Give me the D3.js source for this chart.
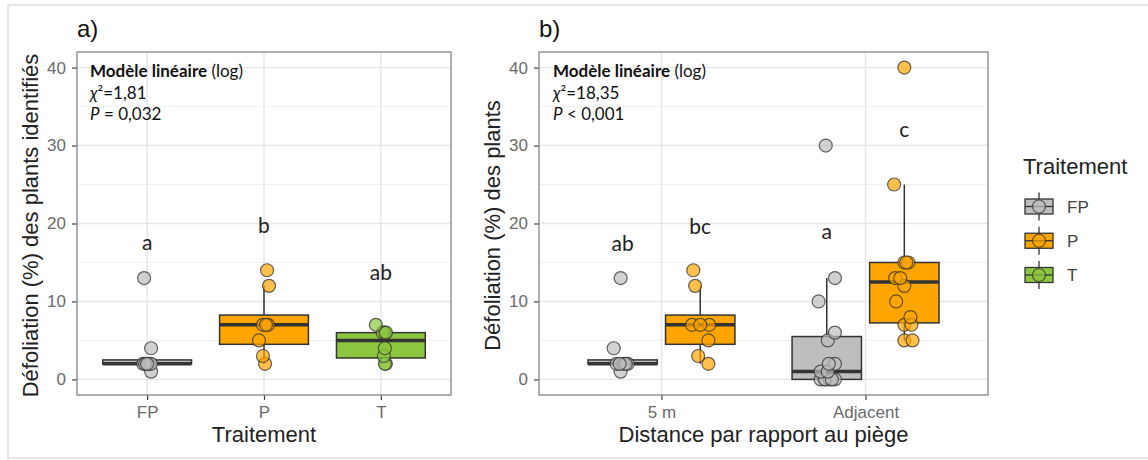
<!DOCTYPE html>
<html><head><meta charset="utf-8">
<script src="https://cdn.jsdelivr.net/npm/d3@7"></script>
<style>body{margin:0;background:#fff}svg{display:block}</style>
</head><body><svg id="c" width="1148" height="460"></svg>
<script>
// ---------------- DATA ----------------
const treatments = ["FP", "P", "T"];
const fillColors = ["#BEBEBE", "#FFA500", "#8DC63F"];

// Panel a: defoliation (%) by treatment
const catsA = ["FP", "P", "T"];
const valsA_FP = [1, 2, 2, 2, 2, 2, 4, 13];
const valsA_P  = [2, 3, 5, 7, 7, 7, 12, 14];
const valsA_T  = [2, 2, 3, 4, 6, 6, 6, 7];
// horizontal jitter (fraction of category step)
const jitA_FP = [0.034, -0.034, 0.017, 0.034, -0.017, 0.0, 0.034, -0.026];
const jitA_P  = [0.009, -0.009, -0.043, -0.009, 0.034, 0.017, 0.043, 0.026];
const jitA_T  = [0.043, 0.034, 0.026, 0.034, 0.034, 0.017, 0.043, -0.043];
const lettersA = ["a", "b", "ab"];
const letterValA = [16.6, 18.8, 12.75];

// Panel b: defoliation (%) by distance to trap, dodged by treatment
const catsB = ["5 m", "Adjacent"];
const valsB_5m_FP  = [1, 2, 2, 2, 2, 2, 4, 13];
const valsB_5m_P   = [2, 3, 5, 7, 7, 7, 12, 14];
const valsB_Adj_FP = [0, 0, 0, 0, 0, 0, 1, 1, 2, 2, 5, 6, 10, 13, 30];
const valsB_Adj_P  = [5, 5, 7, 7, 8, 10, 12, 13, 13, 15, 15, 15, 25, 40];
const jitB_5m_FP  = [-0.01, -0.03, 0.025, 0.005, 0.015, -0.015, -0.044, -0.01];
const jitB_5m_P   = [0.04, -0.01, 0.04, -0.04, 0.044, 0.0, -0.025, -0.034];
const jitB_Adj_FP = [-0.03, -0.005, 0.015, 0.04, -0.01, 0.025, -0.03, 0.005, 0.04, 0.01, 0.005, 0.04, -0.04, 0.04, -0.005];
const jitB_Adj_P  = [0.0, 0.04, 0.0, 0.035, 0.03, -0.04, 0.0, -0.045, -0.02, 0.0, 0.02, 0.01, -0.05, 0.0];
const lettersB = ["ab", "bc", "a", "c"];
const letterValB = [16.5, 18.65, 18.0, 31.1];

const yTicks = [0, 10, 20, 30, 40];
const yMinor = [5, 15, 25, 35];

const statsA = ["Modèle linéaire", "(log)", "1,81", "= 0,032"];
const statsB = ["Modèle linéaire", "(log)", "18,35", "< 0,001"];

// ---------------- DRAW ----------------
const svg = d3.select("#c");
const AX = "'Liberation Sans', Arial, sans-serif";
const CAL = "Lato, 'Open Sans', sans-serif";

svg.append("rect").attr("x", 8).attr("y", 5).attr("width", 1150).attr("height", 453)
  .attr("fill", "none").attr("stroke", "#e6e6e6").attr("stroke-width", 2);

const pTop = 52, pBottom = 395;
const y = d3.scaleLinear().domain([-2, 42]).range([pBottom, pTop]);

function boxStats(v) {
  const s = v.slice().sort(d3.ascending);
  const q1 = d3.quantile(s, 0.25), med = d3.quantile(s, 0.5), q3 = d3.quantile(s, 0.75);
  const iqr = q3 - q1;
  const lo = d3.min(s.filter(d => d >= q1 - 1.5 * iqr));
  const hi = d3.max(s.filter(d => d <= q3 + 1.5 * iqr));
  return {q1, med, q3, lo, hi};
}

function panel(left, right, cats, label, yTitle, xTitle, yTitleX) {
  const g = svg.append("g");
  const x = d3.scalePoint().domain(cats).range([left, right]).padding(0.6);
  g.selectAll(".mn").data(yMinor).join("line")
    .attr("x1", left).attr("x2", right).attr("y1", d => y(d)).attr("y2", d => y(d))
    .attr("stroke", "#f0f0f0").attr("stroke-width", 1);
  g.selectAll(".mj").data(yTicks).join("line")
    .attr("x1", left).attr("x2", right).attr("y1", d => y(d)).attr("y2", d => y(d))
    .attr("stroke", "#e6e6e6").attr("stroke-width", 1.4);
  g.selectAll(".vx").data(cats).join("line")
    .attr("x1", d => x(d)).attr("x2", d => x(d)).attr("y1", pTop).attr("y2", pBottom)
    .attr("stroke", "#e6e6e6").attr("stroke-width", 1.4);
  const ya = g.append("g").attr("transform", `translate(${left},0)`)
    .call(d3.axisLeft(y).tickValues(yTicks).tickSize(5).tickPadding(6));
  const xa = g.append("g").attr("transform", `translate(0,${pBottom})`)
    .call(d3.axisBottom(x).tickSize(5).tickPadding(6));
  [ya, xa].forEach(a => {
    a.select(".domain").remove();
    a.selectAll("line").attr("stroke", "#444").attr("stroke-width", 1.2);
    a.selectAll("text").attr("fill", "#6b6b6b").attr("font-family", AX).attr("font-size", 17);
  });
  g.append("text").attr("x", left).attr("y", 37).text(label)
    .attr("font-family", AX).attr("font-size", 24).attr("fill", "#111");
  g.append("text").attr("transform", `translate(${yTitleX},${(pTop + pBottom) / 2 + 2}) rotate(-90)`)
    .attr("text-anchor", "middle").text(yTitle)
    .attr("font-family", AX).attr("font-size", 22).attr("fill", "#222");
  g.append("text").attr("x", (left + right) / 2).attr("y", 442).attr("text-anchor", "middle")
    .text(xTitle).attr("font-family", AX).attr("font-size", 22).attr("fill", "#222");
  return {g, x, step: x.step()};
}

function drawBox(g, cx, w, vals, color) {
  const s = boxStats(vals);
  g.append("line").attr("x1", cx).attr("x2", cx).attr("y1", y(s.q3)).attr("y2", y(s.hi))
    .attr("stroke", "#333").attr("stroke-width", 1.5);
  g.append("line").attr("x1", cx).attr("x2", cx).attr("y1", y(s.q1)).attr("y2", y(s.lo))
    .attr("stroke", "#333").attr("stroke-width", 1.5);
  g.append("rect").attr("x", cx - w / 2).attr("width", w)
    .attr("y", y(s.q3)).attr("height", Math.max(0, y(s.q1) - y(s.q3)))
    .attr("fill", color).attr("stroke", "#333").attr("stroke-width", 1.5);
  g.append("line").attr("x1", cx - w / 2).attr("x2", cx + w / 2).attr("y1", y(s.med)).attr("y2", y(s.med))
    .attr("stroke", "#333").attr("stroke-width", 3.5);
}

function drawPoints(g, cx, step, vals, jit, color) {
  g.append("g").selectAll("circle").data(vals).join("circle")
    .attr("cx", (d, i) => cx + jit[i] * step).attr("cy", d => y(d)).attr("r", 6.5)
    .attr("fill", color).attr("fill-opacity", 0.7)
    .attr("stroke", "#333").attr("stroke-opacity", 0.75).attr("stroke-width", 1.2);
}

function frame(g, left, right) {
  g.append("rect").attr("x", left).attr("y", pTop).attr("width", right - left).attr("height", pBottom - pTop)
    .attr("fill", "none").attr("stroke", "#7a7a7a").attr("stroke-width", 1.2);
}

function statsText(g, x0, st) {
  const t = g.append("g").attr("font-family", CAL).attr("font-size", 17).attr("fill", "#111");
  const l1 = t.append("text").attr("x", x0).attr("y", 77);
  l1.append("tspan").attr("font-weight", "bold").text(st[0]);
  l1.append("tspan").text(" " + st[1]);
  const l2 = t.append("text").attr("x", x0).attr("y", 99);
  l2.append("tspan").attr("font-style", "italic").text("χ");
  l2.append("tspan").text("²=" + st[2]);
  const l3 = t.append("text").attr("x", x0).attr("y", 120);
  l3.append("tspan").attr("font-style", "italic").text("P");
  l3.append("tspan").text(" " + st[3]);
}

// ---- Panel a
const LA = 77, RA = 451;
const pa = panel(LA, RA, catsA, "a)", "Défoliation (%) des plants identifiés", "Traitement", 38);
const wA = 0.76 * pa.step;
const valsA = [valsA_FP, valsA_P, valsA_T];
const jitA = [jitA_FP, jitA_P, jitA_T];
catsA.forEach((c, i) => drawBox(pa.g, pa.x(c), wA, valsA[i], fillColors[i]));
catsA.forEach((c, i) => drawPoints(pa.g, pa.x(c), pa.step, valsA[i], jitA[i], fillColors[i]));
pa.g.selectAll(".let").data(lettersA).join("text")
  .attr("x", (d, i) => pa.x(catsA[i])).attr("y", (d, i) => y(letterValA[i]))
  .attr("text-anchor", "middle").text(d => d)
  .attr("font-family", CAL).attr("font-size", 21).attr("fill", "#222");
statsText(pa.g, 90, statsA);
frame(pa.g, LA, RA);

// ---- Panel b
const LB = 539, RB = 988;
const pb = panel(LB, RB, catsB, "b)", "Défoliation (%) des plants", "Distance par rapport au piège", 500);
const wB = 0.34 * pb.step, dodge = 0.19 * pb.step;
const groupsB = [
  {cat: "5 m", t: 0, v: valsB_5m_FP, j: jitB_5m_FP},
  {cat: "5 m", t: 1, v: valsB_5m_P, j: jitB_5m_P},
  {cat: "Adjacent", t: 0, v: valsB_Adj_FP, j: jitB_Adj_FP},
  {cat: "Adjacent", t: 1, v: valsB_Adj_P, j: jitB_Adj_P}
];
const cxB = gr => pb.x(gr.cat) + (gr.t === 0 ? -dodge : dodge);
groupsB.forEach(gr => drawBox(pb.g, cxB(gr), wB, gr.v, fillColors[gr.t]));
groupsB.forEach(gr => drawPoints(pb.g, cxB(gr), pb.step, gr.v, gr.j, fillColors[gr.t]));
pb.g.selectAll(".let").data(lettersB).join("text")
  .attr("x", (d, i) => cxB(groupsB[i])).attr("y", (d, i) => y(letterValB[i]))
  .attr("text-anchor", "middle").text(d => d)
  .attr("font-family", CAL).attr("font-size", 21).attr("fill", "#222");
statsText(pb.g, 553, statsB);
frame(pb.g, LB, RB);

// ---- Legend
const lg = svg.append("g");
lg.append("text").attr("x", 1023).attr("y", 174).text("Traitement")
  .attr("font-family", AX).attr("font-size", 22).attr("fill", "#222");
const keyY = d3.scalePoint().domain(treatments).range([206.5, 275]);
treatments.forEach((t, i) => {
  const cy = keyY(t), cx = 1039;
  lg.append("line").attr("x1", cx).attr("x2", cx).attr("y1", cy - 14).attr("y2", cy + 14)
    .attr("stroke", "#333").attr("stroke-width", 1.3);
  lg.append("rect").attr("x", cx - 14).attr("y", cy - 7.5).attr("width", 28).attr("height", 15)
    .attr("fill", fillColors[i]).attr("stroke", "#333").attr("stroke-width", 1.3);
  lg.append("line").attr("x1", cx - 14).attr("x2", cx + 14).attr("y1", cy).attr("y2", cy)
    .attr("stroke", "#333").attr("stroke-width", 1.3);
  lg.append("circle").attr("cx", cx).attr("cy", cy).attr("r", 6.5)
    .attr("fill", fillColors[i]).attr("fill-opacity", 0.7)
    .attr("stroke", "#333").attr("stroke-opacity", 0.75).attr("stroke-width", 1.2);
  lg.append("text").attr("x", 1067).attr("y", cy + 6).text(t)
    .attr("font-family", AX).attr("font-size", 17).attr("fill", "#444");
});
</script>
</body></html>
